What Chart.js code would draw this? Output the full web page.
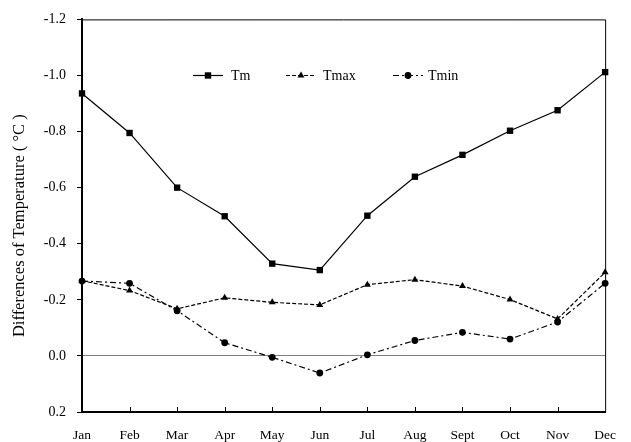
<!DOCTYPE html>
<html>
<head>
<meta charset="utf-8">
<script src="https://cdn.jsdelivr.net/npm/chart.js@4/dist/chart.umd.min.js"></script>
<style>
  html, body { margin: 0; padding: 0; background: #fff; }
  #wrap { width: 631px; height: 442px; }
</style>
</head>
<body>
<div id="wrap"><canvas id="c" width="631" height="442"></canvas></div>
<script>
const months = ['Jan','Feb','Mar','Apr','May','Jun','Jul','Aug','Sept','Oct','Nov','Dec'];
const tm   = [-0.936,-0.795,-0.600,-0.498,-0.329,-0.306,-0.500,-0.639,-0.717,-0.803,-0.876,-1.012];
const tmax = [-0.268,-0.233,-0.168,-0.207,-0.191,-0.182,-0.254,-0.272,-0.249,-0.201,-0.132,-0.298];
const tmin = [-0.267,-0.259,-0.161,-0.047,0.005,0.061,-0.004,-0.055,-0.084,-0.060,-0.121,-0.259];
const yTickLabels = ['-1.2','-1.0','-0.8','-0.6','-0.4','-0.2','0.0','0.2'];
const seriesNames = ['Tm','Tmax','Tmin'];
const yTitle = 'Differences of Temperature ( \u00B0C )';

const FONT = "'Liberation Serif', 'Times New Roman', serif";

const framePlugin = {
  id: 'frame',
  beforeDatasetsDraw(chart) {
    const {ctx, chartArea: a} = chart;
    ctx.save();
    ctx.strokeStyle = '#000';
    ctx.lineWidth = 1;
    ctx.beginPath();
    ctx.moveTo(a.left, a.top + 0.5);
    ctx.lineTo(a.right + 0.5, a.top + 0.5);
    ctx.lineTo(a.right + 0.5, a.bottom);
    ctx.stroke();
    const xs = chart.scales.x;
    ctx.beginPath();
    for (let i = 1; i < months.length - 1; i++) {
      const px = Math.round(xs.getPixelForValue(i)) + 0.5;
      ctx.moveTo(px, a.bottom);
      ctx.lineTo(px, a.bottom - 5);
    }
    ctx.stroke();
    // y axis title
    ctx.save();
    ctx.translate(20, (a.top + a.bottom) / 2 + 10);
    ctx.rotate(-Math.PI / 2);
    ctx.fillStyle = '#000';
    ctx.font = '16.5px ' + FONT;
    ctx.textAlign = 'center';
    ctx.textBaseline = 'middle';
    ctx.fillText(yTitle, 0, 0);
    ctx.restore();
    ctx.restore();
  }
};

function drawMarker(ctx, kind, x, y) {
  ctx.fillStyle = '#000';
  ctx.beginPath();
  if (kind === 'rect') {
    ctx.rect(x - 3.2, y - 3.2, 6.4, 6.4);
  } else if (kind === 'triangle') {
    const r = 4;
    for (let k = 0; k < 3; k++) {
      const ang = k * 2 * Math.PI / 3;
      const px = x + Math.sin(ang) * r, py = y - Math.cos(ang) * r;
      if (k === 0) ctx.moveTo(px, py); else ctx.lineTo(px, py);
    }
    ctx.closePath();
  } else {
    ctx.arc(x, y, 3.4, 0, Math.PI * 2);
  }
  ctx.fill();
}

const legendPlugin = {
  id: 'customLegend',
  afterDatasetsDraw(chart) {
    const {ctx} = chart;
    const items = [
      {x0: 193, text: 231},
      {x0: 286, text: 323},
      {x0: 393, text: 428}
    ];
    const y = 75;
    ctx.save();
    chart.data.datasets.forEach((ds, i) => {
      const it = items[i];
      ctx.strokeStyle = '#000';
      ctx.lineWidth = ds.borderWidth;
      ctx.setLineDash(ds.borderDash || []);
      ctx.beginPath();
      ctx.moveTo(it.x0, y + 0.5);
      ctx.lineTo(it.x0 + 30, y + 0.5);
      ctx.stroke();
      ctx.setLineDash([]);
      drawMarker(ctx, ds.pointStyle, it.x0 + 15, y + 0.5);
      ctx.fillStyle = '#000';
      ctx.font = '14px ' + FONT;
      ctx.textBaseline = 'middle';
      ctx.textAlign = 'left';
      ctx.fillText(ds.label, it.text, y + 1);
    });
    ctx.restore();
  }
};

new Chart(document.getElementById('c'), {
  type: 'line',
  data: {
    labels: months,
    datasets: [
      {label: seriesNames[0], data: tm, borderColor: '#000', backgroundColor: '#000', borderWidth: 1.2,
       pointStyle: 'rect', pointRadius: 4.5, pointBorderWidth: 0, pointBackgroundColor: '#000', clip: false, tension: 0},
      {label: seriesNames[1], data: tmax, borderColor: '#000', backgroundColor: '#000', borderWidth: 1.2,
       borderDash: [4, 2], pointStyle: 'triangle', pointRadius: 4, pointBorderWidth: 0, pointBackgroundColor: '#000', clip: false, tension: 0},
      {label: seriesNames[2], data: tmin, borderColor: '#000', backgroundColor: '#000', borderWidth: 1.2,
       borderDash: [6, 3, 2, 3], pointStyle: 'circle', pointRadius: 3.4, pointBorderWidth: 0, pointBackgroundColor: '#000', clip: false, tension: 0}
    ]
  },
  options: {
    responsive: false,
    animation: false,
    devicePixelRatio: 1,
    layout: {padding: {top: 17, right: 13, left: 0, bottom: 0}},
    plugins: {legend: {display: false}, tooltip: {enabled: false}},
    scales: {
      x: {
        offset: false,
        grid: {display: false, drawTicks: false},
        border: {display: true, color: '#000', width: 2},
        ticks: {color: '#000', font: {family: FONT, size: 13.5}, padding: 15, maxRotation: 0, autoSkip: false},
        afterFit(s) { s.height = 30; }
      },
      y: {
        reverse: true,
        min: -1.2,
        max: 0.2,
        afterBuildTicks(s) {
          s.ticks = yTickLabels.map(t => ({value: parseFloat(t)}));
        },
        ticks: {
          color: '#000',
          font: {family: FONT, size: 14},
          padding: 11,
          callback: (v, i) => yTickLabels[i]
        },
        grid: {
          drawTicks: true,
          tickLength: 5,
          tickColor: '#000',
          tickWidth: 1,
          lineWidth: 1,
          color: ctx => (ctx.tick && Math.abs(ctx.tick.value) < 1e-9) ? '#808080' : 'rgba(0,0,0,0)'
        },
        border: {display: true, color: '#000', width: 2},
        title: {display: false},
        afterFit(s) { s.width = 82; }
      }
    }
  },
  plugins: [framePlugin, legendPlugin]
});
</script>
</body>
</html>
